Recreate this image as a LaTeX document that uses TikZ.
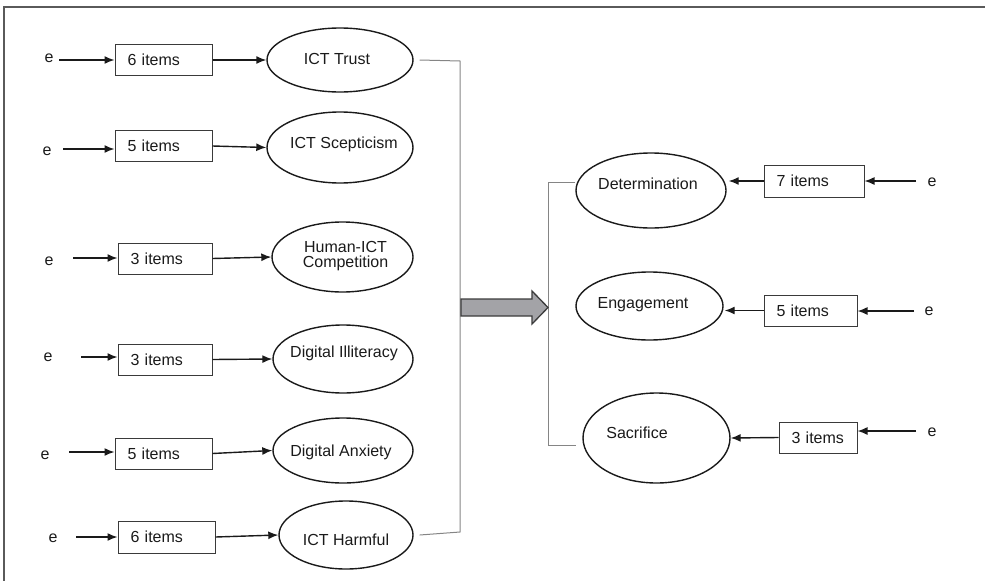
\documentclass[tikz,border=0pt]{standalone}
\usepackage{fontspec}
\setmainfont{Liberation Sans}
\usetikzlibrary{arrows.meta,shapes.geometric}

\definecolor{framecol}{HTML}{5A5A5A}
\definecolor{inkcol}{HTML}{1A1A1A}
\definecolor{boxcol}{HTML}{3A3A3A}
\definecolor{bracketcol}{HTML}{858585}
\definecolor{blockfill}{HTML}{A3A3A7}
\definecolor{blockline}{HTML}{3C3C3C}

\tikzset{
  every node/.style={font=\fontsize{16}{15}\selectfont, text=inkcol},
  latent/.style={draw=inkcol, line width=1.4pt, ellipse, inner sep=0pt},
  lbl/.style={inner sep=0pt, align=center},
  indicator/.style={draw=boxcol, line width=1pt, rectangle, inner xsep=12.5pt,
                    inner ysep=0pt, minimum height=31pt, align=left},
  errlbl/.style={inner sep=0pt},
  link/.style={draw=inkcol, line width=1.4pt, -{Latex[length=10pt,width=8pt]}},
  bracket/.style={draw=bracketcol, line width=1pt},
  bigarrow/.style={fill=blockfill, draw=blockline, line width=1.3pt, line join=miter}
}

\begin{document}
\begin{tikzpicture}[x=1pt,y=-1pt]
\useasboundingbox (0,0) rectangle (985,581);

% frame (top and left edges only)
\draw[framecol, line width=1.5pt] (985,7) -- (4,7) -- (4,581);

% ---------- left block: six constructs ----------
\node[latent, minimum width=146pt, minimum height=64pt] (trust) at (340,60) {};
\node[lbl] (trust-t) at (337,59) {ICT Trust};
\node[latent, minimum width=146pt, minimum height=71pt] (scep) at (340,147.5) {};
\node[lbl] (scep-t) at (344,144) {ICT Scepticism};
\node[latent, minimum width=141pt, minimum height=70pt] (comp) at (342.5,257) {};
\node[lbl] (comp-t) at (345.5,256) {Human-ICT\\Competition};
\node[latent, minimum width=140pt, minimum height=68pt] (illit) at (343,359) {};
\node[lbl] (illit-t) at (344,353) {Digital Illiteracy};
\node[latent, minimum width=140pt, minimum height=65pt] (anx) at (343,450.5) {};
\node[lbl] (anx-t) at (341,452) {Digital Anxiety};
\node[latent, minimum width=134pt, minimum height=68pt] (harm) at (346,535) {};
\node[lbl] (harm-t) at (346,540) {ICT Harmful};

% item boxes
\node[indicator, text width=72pt] (b1) at (163.5,60) {6 items};
\node[indicator, text width=72pt] (b2) at (163.5,146) {5 items};
\node[indicator, text width=69pt] (b3) at (165,258.5) {3 items};
\node[indicator, text width=69pt] (b4) at (165,359.5) {3 items};
\node[indicator, text width=72pt] (b5) at (163.5,453.5) {5 items};
\node[indicator, text width=72pt, minimum height=32pt] (b6) at (166.5,537) {6 items};

% error terms
\node[errlbl] (e1) at (49,58) {e};
\node[errlbl] (e2) at (47,151) {e};
\node[errlbl] (e3) at (49,261) {e};
\node[errlbl] (e4) at (48,357) {e};
\node[errlbl] (e5) at (45,455) {e};
\node[errlbl] (e6) at (53,538) {e};
\coordinate (t1) at (59,60);
\coordinate (t2) at (63,149);
\coordinate (t3) at (73,258);
\coordinate (t4) at (81,357);
\coordinate (t5) at (69,452);
\coordinate (t6) at (76,537);

\foreach \i in {1,...,6} {
  \draw[link] (t\i) -- (t\i -| b\i.west);
}
\draw[link] (b1.east) -- (trust.west);
\draw[link] (b2.east) -- (scep.west);
\draw[link] (b3.east) -- (comp.west);
\draw[link] (b4.east) -- (illit.west);
\draw[link] (b5.east) -- (anx.west);
\draw[link] (b6.east) -- (harm.west);

% ---------- right block: three outcomes ----------
\node[latent, minimum width=150pt, minimum height=75pt] (det) at (651,190.5) {};
\node[lbl] (det-t) at (648,184) {Determination};
\node[latent, minimum width=147pt, minimum height=68pt] (eng) at (649.5,306) {};
\node[lbl] (eng-t) at (643,305) {Engagement};
\node[latent, minimum width=147pt, minimum height=90pt] (sac) at (656.5,438) {};
\node[lbl] (sac-t) at (637,433) {Sacrifice};

\node[indicator, text width=75pt, minimum height=32pt] (r1) at (814,181) {7 items};
\node[indicator, text width=68pt] (r2) at (810.5,310.5) {5 items};
\node[indicator, text width=53pt] (r3) at (818,437.5) {3 items};

\node[errlbl] (er1) at (932,182) {e};
\node[errlbl] (er2) at (929,311) {e};
\node[errlbl] (er3) at (932,432) {e};
\coordinate (u1) at (916,181);
\coordinate (u2) at (914,311);
\coordinate (u3) at (916,431);

\foreach \i in {1,2,3} {
  \draw[link] (u\i) -- (u\i -| r\i.east);
}
\draw[link, shorten >=2pt] (r1.west) -- (det.east |- r1.west);
\draw[link, shorten >=1pt] (r2.west) -- (eng.east |- r2.west);
\draw[link] (r3.west) -- (sac.east);

% ---------- grouping brackets and block arrow ----------
\coordinate (lb1) at (460,61);
\coordinate (lb2) at (460,532);
\coordinate (rb1) at (548,182);
\coordinate (rb2) at (548,445);
\draw[bracket] ([xshift=6pt]trust.east) -- (lb1) -- (lb2) -- ([xshift=6pt]harm.east);
\draw[bracket] (det.west |- rb1) -- (rb1) -- (rb2) -- ([xshift=-6pt]sac.west |- rb2);

\coordinate (arr) at (461,307.5);
\draw[bigarrow, shift={(arr)}]
  (0,-8.5) -- (71,-8.5) -- (71,-16.5) -- (87,0) -- (71,16.5) -- (71,8.5) -- (0,8.5) -- cycle;
\end{tikzpicture}
\end{document}
